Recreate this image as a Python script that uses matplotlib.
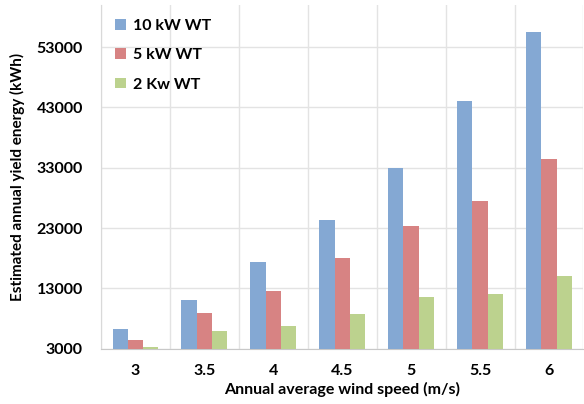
import numpy as np
import matplotlib.pyplot as plt

plt.rcParams["font.family"] = ["Lato", "DejaVu Sans"]
plt.rcParams["font.weight"] = "bold"

# Wind speeds (m/s) and estimated yearly yield (kWh) per turbine size
wind_speeds = ["3", "3.5", "4", "4.5", "5", "5.5", "6"]
yield_10kw = [6200, 11000, 17300, 24300, 32900, 44100, 55500]
yield_5kw = [4400, 8900, 12600, 18000, 23400, 27400, 34400]
yield_2kw = [3200, 5900, 6800, 8800, 11500, 12000, 15000]

series_names = ["10 kW WT", "5 kW WT", "2 Kw WT"]
colors = ["#84A8D3", "#D78383", "#BCD28E"]

fig = plt.figure(figsize=(5.84, 4.04), dpi=100)
ax = fig.add_axes([0.173, 0.137, 0.826, 0.851])

x = np.arange(len(wind_speeds))
width = 0.222
for i, (vals, name, col) in enumerate(zip([yield_10kw, yield_5kw, yield_2kw], series_names, colors)):
    ax.bar(x + (i - 1) * width, vals, width, label=name, color=col, zorder=3)

ax.set_ylim(3000, 60000)
ax.set_xlim(-0.5, len(wind_speeds) - 0.5)
ax.set_yticks(np.arange(3000, 60000, 10000))
ax.set_xticks(x)
ax.set_xticklabels(wind_speeds)

# vertical grid lines between categories
ax.set_xticks(np.arange(-0.5, len(wind_speeds)), minor=True)
ax.grid(axis="x", which="minor", color="#E3E3E3", linewidth=1, zorder=0)
ax.grid(axis="y", which="major", color="#E3E3E3", linewidth=1, zorder=0)
ax.tick_params(axis="both", which="both", length=0)
ax.tick_params(axis="x", labelsize=11.5, pad=11)
ax.tick_params(axis="y", labelsize=11.5, pad=13)

for side in ["top", "right"]:
    ax.spines[side].set_visible(False)
ax.spines["left"].set_color("#D9D9D9")
ax.spines["bottom"].set_color("#C8C8C8")

ax.set_xlabel("Annual average wind speed (m/s)", fontsize=11.5, fontweight="bold", labelpad=3)
ax.set_ylabel("Estimated annual yield energy (kWh)", fontsize=11, fontweight="bold", labelpad=8)

leg = ax.legend(loc="upper left", bbox_to_anchor=(0.0, 1.0), frameon=False,
                fontsize=11.5, handlelength=0.65, handleheight=0.65,
                labelspacing=0.95, handletextpad=0.45, borderaxespad=0.5)
for t in leg.get_texts():
    t.set_fontweight("bold")

fig.savefig("out.png", dpi=100)
